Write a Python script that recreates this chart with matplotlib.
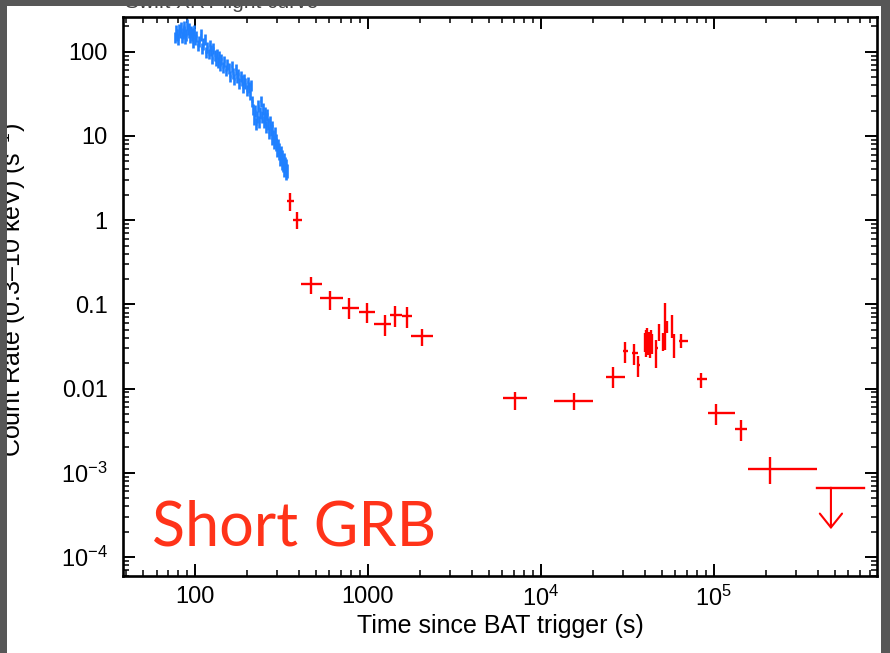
import numpy as np
import matplotlib.pyplot as plt
from matplotlib.patches import Rectangle
from matplotlib.ticker import LogLocator, NullFormatter

plt.rcParams['font.family'] = ['Liberation Sans', 'DejaVu Sans']
plt.rcParams['mathtext.fontset'] = 'custom'
plt.rcParams['mathtext.rm'] = 'Liberation Sans'
plt.rcParams['mathtext.it'] = 'Liberation Sans:italic'
plt.rcParams['mathtext.bf'] = 'Liberation Sans:bold'

# XRT windowed timing data (blue)
blue_t = [77, 78, 79, 80, 81, 82, 83, 84, 85, 86, 87, 88, 89, 90, 91, 92, 93, 94, 95, 96, 97, 98, 99, 100,
          102, 104, 106, 108, 110, 112, 114, 116, 118, 120, 122, 124, 126, 128, 130, 132, 134, 136, 138, 140, 142,
          145, 148, 151, 154, 157, 160, 163, 166, 169, 172, 175, 178, 181, 184, 187, 190, 193, 196, 199, 202,
          205, 208, 211, 214, 217,
          220, 223, 226, 229, 232, 235, 238, 241, 244, 247, 250, 253, 256, 259, 262, 265, 268, 271,
          275, 278, 281, 284, 287, 290, 293, 296, 299, 302, 305, 308, 311, 314, 317, 320, 323, 326, 329,
          332, 335, 338, 341]
blue_r = [150, 180, 160, 140, 185, 170, 195, 150, 165, 200, 175, 145, 160, 215, 185, 170, 190, 150, 175, 160,
          130, 165, 180, 140,
          155, 120, 135, 160, 110, 125, 140, 100, 115, 95, 120, 105, 85, 110, 92, 80, 95, 75, 88, 70, 82,
          66, 78, 60, 72, 64, 52, 68, 56, 48, 62, 50, 55, 42, 52, 46, 38, 48, 42, 35, 44, 38, 31, 40, 26, 21,
          16, 20, 14, 17, 23, 15, 19, 26, 17, 21, 15, 19, 16, 13, 18, 14, 11, 15,
          12, 9.5, 13, 10, 8.5, 11, 8, 9, 6.8, 7.8, 6.2, 7, 5.4, 6.4, 4.8, 5.8, 4.5, 5.4, 4.0,
          4.8, 3.7, 4.5, 3.9]
blue_err = [22, 27, 24, 21, 28, 26, 29, 22, 25, 30, 26, 22, 24, 32, 28, 26, 28, 22, 26, 24, 20, 25, 27, 21,
            23, 18, 20, 24, 17, 19, 21, 15, 17, 14, 18, 16, 13, 16, 14, 12, 14, 11, 13, 10.5, 12,
            10, 12, 9, 11, 9.6, 7.8, 10, 8.4, 7.2, 9.3, 7.5, 8.2, 6.3, 7.8, 6.9, 5.7, 7.2, 6.3, 5.2, 6.6,
            5.7, 4.6, 6, 3.9, 3.2,
            2.6, 3.2, 2.3, 2.8, 3.6, 2.5, 3.1, 4, 2.8, 3.4, 2.5, 3.1, 2.6, 2.2, 2.9, 2.3, 1.9, 2.5,
            2.0, 1.6, 2.1, 1.7, 1.45, 1.8, 1.35, 1.5, 1.15, 1.3, 1.05, 1.2, 0.95, 1.1, 0.85, 1.0, 0.8, 0.95,
            0.72, 0.85, 0.68, 0.8, 0.7]

# XRT photon counting data (red)
red_t = [354, 389, 467, 603, 777, 984, 1250, 1439, 1675, 2053,
         7080, 15600, 26000, 30700, 34660, 36700,
         40000, 40400, 40800, 41200, 41600, 42400, 42800, 43200, 44000,
         46670, 48300, 51000, 52100, 53700, 57500, 58800, 65050,
         84900, 103700, 143300, 212800]
red_tlo = [340, 369, 410, 528, 708, 888, 1084, 1341, 1573, 1774,
           6039, 11890, 23770, 29800, 33600, 36000,
           39600, 40000, 40400, 40800, 41200, 42000, 42400, 42800, 43600,
           45800, 47500, 50300, 51400, 52800, 56600, 58300, 62800,
           79800, 92400, 132400, 157300]
red_thi = [374, 415, 542, 717, 888, 1099, 1359, 1573, 1797, 2376,
           8303, 20000, 30600, 31850, 36400, 37500,
           40400, 40800, 41200, 41600, 42000, 42800, 43200, 43600, 44400,
           47500, 49100, 51700, 52800, 54600, 58300, 59400, 70800,
           91200, 132400, 155300, 394400]
red_r = [1.70, 1.00, 0.173, 0.118, 0.0912, 0.0804, 0.0583, 0.0747, 0.0726, 0.0421,
         0.00765, 0.00716, 0.0137, 0.0279, 0.0262, 0.0189,
         0.036, 0.030, 0.040, 0.045, 0.033, 0.037, 0.029, 0.042, 0.034,
         0.0303, 0.0473, 0.036, 0.055, 0.0542, 0.055, 0.033, 0.0370,
         0.0129, 0.00507, 0.00330, 0.00111]
red_rlo = [1.28, 0.78, 0.131, 0.086, 0.0668, 0.0600, 0.0421, 0.0537, 0.0523, 0.0320,
           0.00556, 0.00556, 0.0101, 0.0201, 0.0190, 0.0137,
           0.027, 0.024, 0.030, 0.035, 0.025, 0.028, 0.023, 0.032, 0.026,
           0.0175, 0.0367, 0.028, 0.0286, 0.046, 0.040, 0.023, 0.0303,
           0.0101, 0.00366, 0.00238, 0.000734]
red_rhi = [2.10, 1.25, 0.209, 0.144, 0.119, 0.104, 0.0747, 0.0955, 0.0929, 0.0509,
           0.00915, 0.00885, 0.0180, 0.0356, 0.0338, 0.0243,
           0.046, 0.038, 0.050, 0.052, 0.043, 0.047, 0.037, 0.050, 0.044,
           0.0377, 0.0583, 0.046, 0.1035, 0.064, 0.0747, 0.045, 0.0444,
           0.0153, 0.00649, 0.00422, 0.00154]

# upper limit
ul_t, ul_tlo, ul_thi = 476500, 394400, 736600
ul_r, ul_end = 0.000664, 0.000214

blue = '#1f80ff'
red = '#ff0000'

fig = plt.figure(figsize=(8.9, 6.53), dpi=100)
fig.patch.set_facecolor('white')
ax = fig.add_axes([123 / 890, 1 - 576 / 653, (877 - 123) / 890, (576 - 16.7) / 653])
ax.set_xscale('log')
ax.set_yscale('log')

bt = np.array(blue_t, dtype=float)
edges = np.sqrt(bt[1:] * bt[:-1])
lo = np.concatenate([[bt[0] - (edges[0] - bt[0])], edges])
hi = np.concatenate([edges, [bt[-1] + (bt[-1] - edges[-1])]])
ax.errorbar(bt, blue_r, yerr=blue_err, xerr=[bt - lo, hi - bt], fmt='none',
            ecolor=blue, elinewidth=1.9, capsize=0)

rt = np.array(red_t, dtype=float)
rr = np.array(red_r)
ax.errorbar(rt, rr, xerr=[rt - np.array(red_tlo), np.array(red_thi) - rt],
            yerr=[rr - np.array(red_rlo), np.array(red_rhi) - rr],
            fmt='none', ecolor=red, elinewidth=1.7, capsize=0)

ax.plot([ul_tlo, ul_thi], [ul_r, ul_r], color=red, lw=1.7)
ax.annotate('', xy=(ul_t, ul_end), xytext=(ul_t, ul_r),
            arrowprops=dict(arrowstyle='->,head_length=0.5,head_width=0.4', color=red,
                            lw=1.5, shrinkA=0, shrinkB=0, mutation_scale=20))

ax.set_xlim(38.4, 8.8e5)
ax.set_ylim(5.94e-5, 261)

ax.set_xticks([100, 1000, 1e4, 1e5])
ax.set_xticklabels(['100', '1000', '$10^4$', '$10^5$'])
ax.set_yticks([1e-4, 1e-3, 0.01, 0.1, 1, 10, 100])
ax.set_yticklabels(['$10^{-4}$', '$10^{-3}$', '0.01', '0.1', '1', '10', '100'])
for axis in (ax.xaxis, ax.yaxis):
    axis.set_minor_locator(LogLocator(base=10, subs=np.arange(2, 10), numticks=30))
    axis.set_minor_formatter(NullFormatter())

ax.tick_params(which='both', direction='in', top=True, right=True, colors='black')
ax.tick_params(which='major', length=8.5, width=1.4, labelsize=17)
ax.tick_params(axis='x', which='major', pad=7)
ax.tick_params(axis='y', which='major', pad=11)
ax.tick_params(which='minor', length=4.3, width=1.1)
for s in ax.spines.values():
    s.set_linewidth(1.9)

fig.text(500 / 890, 1 - 626 / 653, 'Time since BAT trigger (s)', fontsize=18,
         ha='center', va='center')
fig.text(12 / 890, 1 - 290 / 653, 'Count Rate (0.3\u201310 keV) (s$^{-1}$)', fontsize=18,
         rotation=90, ha='center', va='center')
fig.text(125 / 890, 1 - 7.5 / 653, 'Swift XRT light curve', fontsize=15,
         ha='left', va='baseline', color='#444444')

ax.text(152 / 890, 1 - 545 / 653, 'Short GRB', transform=fig.transFigure,
        family=['Lato', 'DejaVu Sans'], fontsize=44, color='#ff3319', va='baseline', ha='left')

gray = '#575757'
fig.add_artist(Rectangle((0, 0), 7 / 890, 1, transform=fig.transFigure,
                         facecolor=gray, edgecolor='none', zorder=20))
fig.add_artist(Rectangle((0, 1 - 6 / 653), 1, 6 / 653, transform=fig.transFigure,
                         facecolor=gray, edgecolor='none', zorder=20))
fig.add_artist(Rectangle((881 / 890, 0), 9 / 890, 1, transform=fig.transFigure,
                         facecolor=gray, edgecolor='none', zorder=20))

fig.savefig('out.png', dpi=100)
